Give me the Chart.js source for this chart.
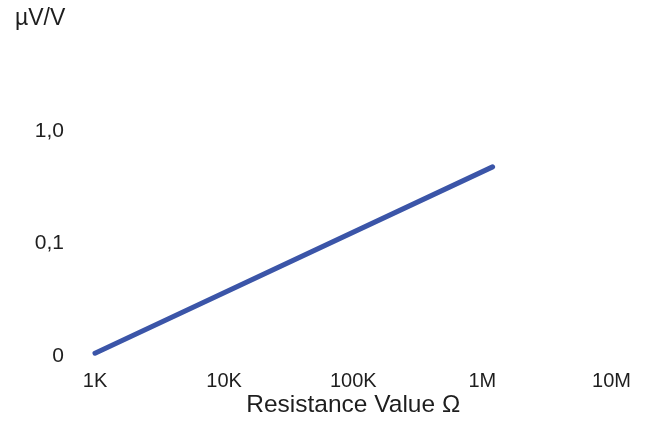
<!DOCTYPE html>
<html>
<head>
<meta charset="utf-8">
<script src="https://cdn.jsdelivr.net/npm/chart.js@4/dist/chart.umd.min.js"></script>
<style>
    html, body { margin: 0; padding: 0; background: #fff; }
    #wrap { width: 648px; height: 428px; }
</style>
</head>
<body>
<div id="wrap"><canvas id="chart"></canvas></div>
<script>
// Chart data
var resistance = [1000, 1200000];          // Ohm
var sensitivity = [0.0106, 0.48];          // uV/V
var xTicks = [1e3, 1e4, 1e5, 1e6, 1e7];
var xTickLabels = ['1K', '10K', '100K', '1M', '10M'];
var yTicks = [0.01, 0.1, 1];
var yTickLabels = ['0', '0,1', '1,0'];

var FONT = "'Liberation Sans', Arial, sans-serif";
var TEXT = '#1e1e1e';

function labelFor(ticks, labels, value) {
    var i = ticks.indexOf(value);
    return i >= 0 ? labels[i] : '';
}

// Unit label above the y axis
var unitLabel = {
    id: 'unitLabel',
    afterDraw: function(chart) {
        var ctx = chart.ctx;
        ctx.save();
        ctx.font = '23px ' + FONT;
        ctx.fillStyle = TEXT;
        ctx.textAlign = 'left';
        ctx.textBaseline = 'alphabetic';
        ctx.fillText('\u00b5V/V', 15, 24.5);
        ctx.restore();
    }
};

var points = resistance.map(function(r, i) {
    return { x: r, y: sensitivity[i] };
});

new Chart(document.getElementById('chart'), {
    type: 'line',
    data: {
        datasets: [{
            data: points,
            borderColor: '#3b55a8',
            borderWidth: 5,
            borderCapStyle: 'round',
            pointRadius: 0,
            fill: false,
            clip: false
        }]
    },
    options: {
        responsive: true,
        maintainAspectRatio: false,
        animation: false,
        layout: {
            padding: { top: 52.4, right: 36.5, bottom: 0, left: 0 }
        },
        plugins: {
            legend: { display: false },
            tooltip: { enabled: false }
        },
        scales: {
            x: {
                type: 'logarithmic',
                min: 1e3,
                max: 1e7,
                grid: { display: false },
                border: { display: false },
                afterBuildTicks: function(axis) {
                    axis.ticks = xTicks.map(function(v) { return { value: v }; });
                },
                afterFit: function(axis) { axis.height = 72; },
                ticks: {
                    padding: 5,
                    maxRotation: 0,
                    autoSkip: false,
                    color: TEXT,
                    font: { family: FONT, size: 20 },
                    callback: function(value) { return labelFor(xTicks, xTickLabels, value); }
                },
                title: {
                    display: true,
                    text: 'Resistance Value \u03a9',
                    color: TEXT,
                    font: { family: FONT, size: 24.5 },
                    padding: { top: 0, bottom: 8 }
                }
            },
            y: {
                type: 'logarithmic',
                min: 0.01,
                max: 5,
                grid: { display: false },
                border: { display: false },
                afterBuildTicks: function(axis) {
                    axis.ticks = yTicks.map(function(v) { return { value: v }; });
                },
                afterFit: function(axis) { axis.width = 95; },
                ticks: {
                    padding: 23,
                    autoSkip: false,
                    color: TEXT,
                    font: { family: FONT, size: 21 },
                    callback: function(value) { return labelFor(yTicks, yTickLabels, value); }
                }
            }
        }
    },
    plugins: [unitLabel]
});
</script>
</body>
</html>
